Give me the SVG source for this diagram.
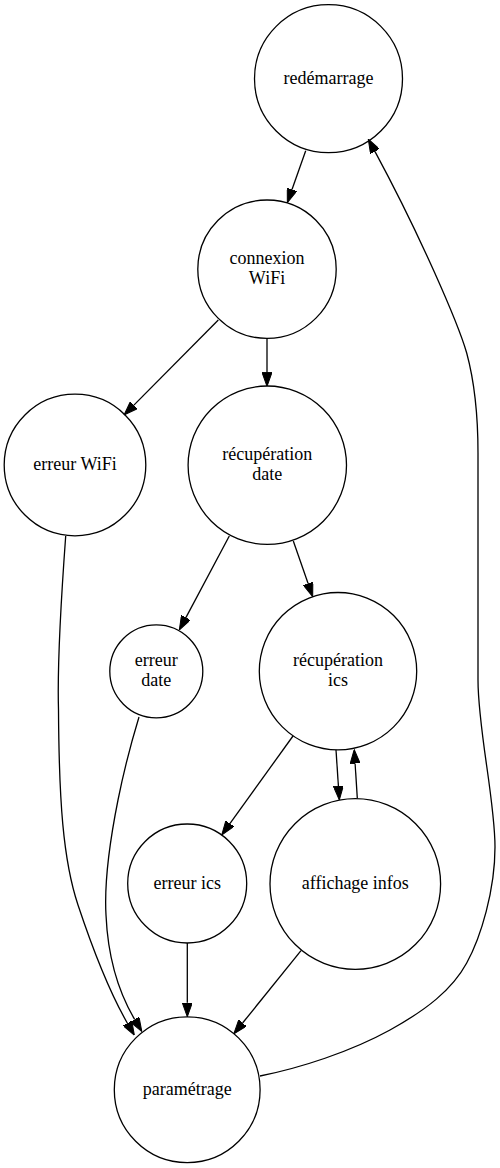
<svg xmlns="http://www.w3.org/2000/svg" width="500" height="1168" viewBox="0 0 500 1168">
<style>
.n circle{fill:none;stroke:#000;stroke-width:1.3}
.n text{font-size:18px;text-anchor:middle;fill:#000}
.e path{fill:none;stroke:#000;stroke-width:1.3}
</style>
<defs>
<marker id="ah" markerUnits="userSpaceOnUse" markerWidth="14" markerHeight="10" viewBox="0 0 14 10" refX="0" refY="5" orient="auto">
<path d="M0,0 L14,5 L0,10 z" fill="#000" stroke="#000" stroke-width="1"/>
</marker>
</defs>
<rect width="500" height="1168" fill="#fff"/>
<g id="edges" class="e">
<path marker-end="url(#ah)" d="M305.7,150.7 L292,189.5"/>
<path marker-end="url(#ah)" d="M218.3,320 L133.9,405.1"/>
<path marker-end="url(#ah)" d="M267,338.4 L267,372.4"/>
<path marker-end="url(#ah)" d="M229.3,536 L185.9,617.6"/>
<path marker-end="url(#ah)" d="M293.3,541 L308.1,583.5"/>
<path marker-end="url(#ah)" d="M293,736 L229.9,823.6"/>
<path marker-end="url(#ah)" d="M336,750 L338.4,786"/>
<path marker-end="url(#ah)" d="M357.3,798.3 L355.1,763.5"/>
<path marker-end="url(#ah)" d="M187.3,943 L187.3,1002.8"/>
<path marker-end="url(#ah)" d="M301,950.7 L242.6,1023"/>
<path marker-end="url(#ah)" d="M65.7,536 C61,600 57,660 58.5,710 C59,800 63,860 78,905 C92,947 110,993 127.4,1023.2"/>
<path marker-end="url(#ah)" d="M139,717 C132,740 124,770 118,800 C110,840 104,880 106,915 C108,960 119,993 134.7,1019.5"/>
<path marker-end="url(#ah)" d="M260,1076 C300,1068 350,1052 390,1030 C426,1010 452,990 466.7,963 C481,937 495,890 495,847 C495,800 478,730 478,680 L478,453 C478,410 474,380 466.7,353 C458,323 420,235 374.9,151.4"/>
</g>
<g font-family="Liberation Serif, Times New Roman, serif">
<g id="redemarrage" class="n"><circle cx="328.5" cy="78.7" r="74"/><text x="328.5" y="84">redémarrage</text></g>
<g id="connexion_wifi" class="n"><circle cx="267" cy="269.2" r="69.2"/><text x="267" y="263.5">connexion</text><text x="267" y="283.5">WiFi</text></g>
<g id="erreur_wifi" class="n"><circle cx="75" cy="465" r="70.8"/><text x="75" y="470.3">erreur WiFi</text></g>
<g id="recuperation_date" class="n"><circle cx="267.3" cy="465.2" r="79.2"/><text x="267.3" y="459.5">récupération</text><text x="267.3" y="479.5">date</text></g>
<g id="erreur_date" class="n"><circle cx="156.3" cy="671.3" r="46.5"/><text x="156.3" y="666.3">erreur</text><text x="156.3" y="686">date</text></g>
<g id="recuperation_ics" class="n"><circle cx="338" cy="671.2" r="78.7"/><text x="338" y="666.3">récupération</text><text x="338" y="686">ics</text></g>
<g id="erreur_ics" class="n"><circle cx="187.2" cy="883.5" r="59.5"/><text x="187.2" y="888.8">erreur ics</text></g>
<g id="affichage_infos" class="n"><circle cx="355.3" cy="884" r="85.3"/><text x="355.3" y="889.3">affichage infos</text></g>
<g id="parametrage" class="n"><circle cx="187.2" cy="1089.7" r="72.9"/><text x="187.2" y="1095">paramétrage</text></g>
</g>
</svg>
